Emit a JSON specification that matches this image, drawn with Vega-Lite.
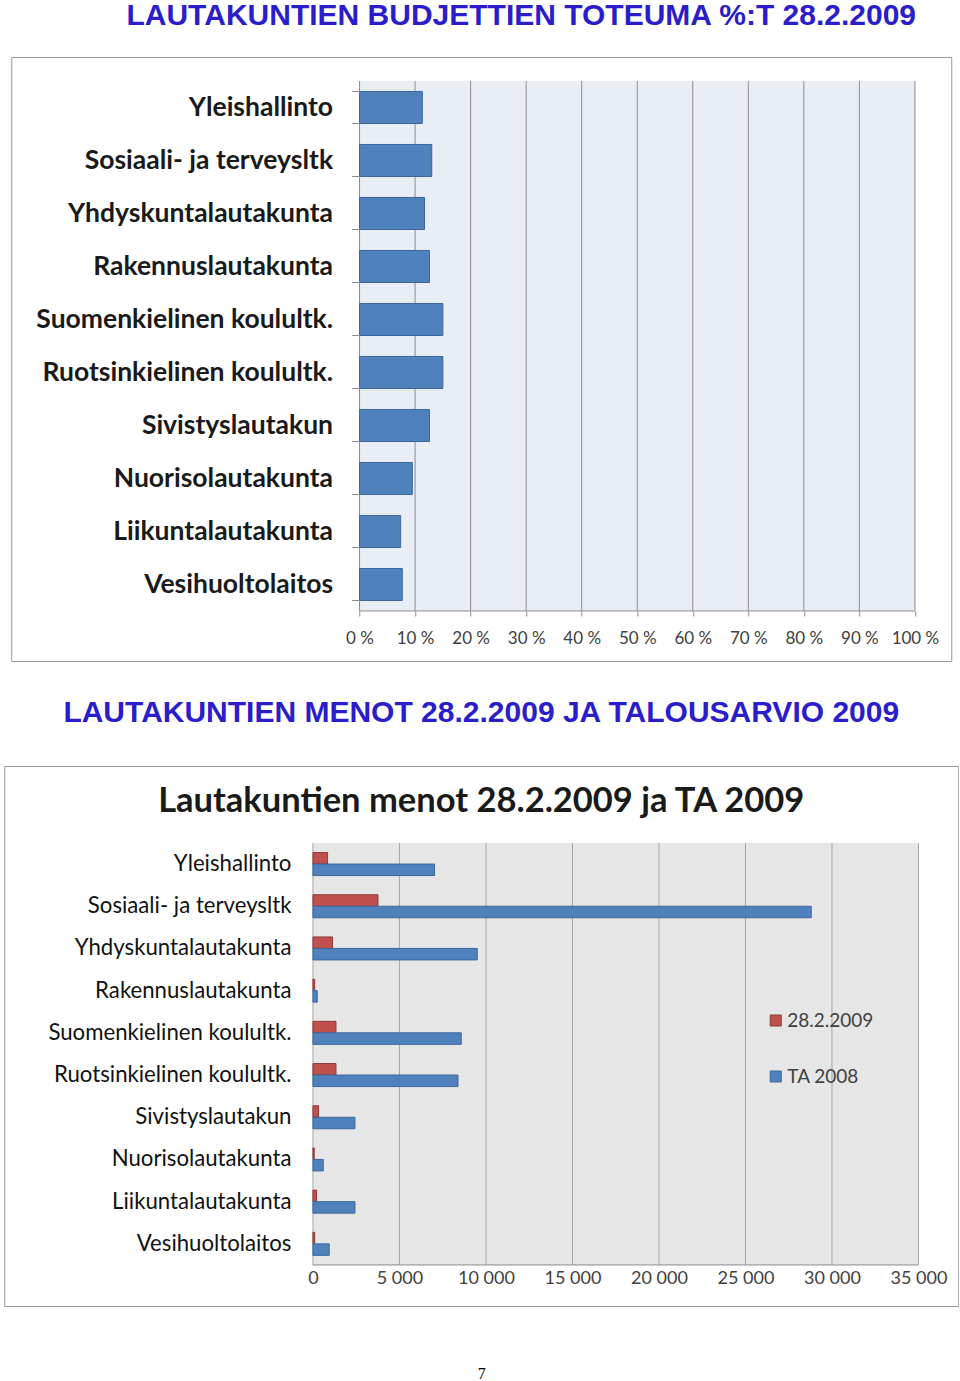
{
  "$schema": "https://vega.github.io/schema/vega-lite/v6.json",
  "padding": {"left": 3, "top": 0, "right": 0, "bottom": 0},
  "background": "white",
  "datasets": {
    "toteuma": [
      {"lautakunta": "Yleishallinto", "toteuma": 11.3},
      {"lautakunta": "Sosiaali- ja terveysltk", "toteuma": 13.0},
      {"lautakunta": "Yhdyskuntalautakunta", "toteuma": 11.7},
      {"lautakunta": "Rakennuslautakunta", "toteuma": 12.6},
      {"lautakunta": "Suomenkielinen koulultk.", "toteuma": 15.0},
      {"lautakunta": "Ruotsinkielinen koulultk.", "toteuma": 15.0},
      {"lautakunta": "Sivistyslautakun", "toteuma": 12.6},
      {"lautakunta": "Nuorisolautakunta", "toteuma": 9.5},
      {"lautakunta": "Liikuntalautakunta", "toteuma": 7.4},
      {"lautakunta": "Vesihuoltolaitos", "toteuma": 7.7}
    ],
    "menot": [
      {"lautakunta": "Yleishallinto", "sarja": "28.2.2009", "menot": 845},
      {"lautakunta": "Yleishallinto", "sarja": "TA 2008", "menot": 7030},
      {"lautakunta": "Sosiaali- ja terveysltk", "sarja": "28.2.2009", "menot": 3757},
      {"lautakunta": "Sosiaali- ja terveysltk", "sarja": "TA 2008", "menot": 28800},
      {"lautakunta": "Yhdyskuntalautakunta", "sarja": "28.2.2009", "menot": 1133},
      {"lautakunta": "Yhdyskuntalautakunta", "sarja": "TA 2008", "menot": 9497},
      {"lautakunta": "Rakennuslautakunta", "sarja": "28.2.2009", "menot": 100},
      {"lautakunta": "Rakennuslautakunta", "sarja": "TA 2008", "menot": 250},
      {"lautakunta": "Suomenkielinen koulultk.", "sarja": "28.2.2009", "menot": 1330},
      {"lautakunta": "Suomenkielinen koulultk.", "sarja": "TA 2008", "menot": 8572},
      {"lautakunta": "Ruotsinkielinen koulultk.", "sarja": "28.2.2009", "menot": 1330},
      {"lautakunta": "Ruotsinkielinen koulultk.", "sarja": "TA 2008", "menot": 8382},
      {"lautakunta": "Sivistyslautakun", "sarja": "28.2.2009", "menot": 324},
      {"lautakunta": "Sivistyslautakun", "sarja": "TA 2008", "menot": 2428},
      {"lautakunta": "Nuorisolautakunta", "sarja": "28.2.2009", "menot": 75},
      {"lautakunta": "Nuorisolautakunta", "sarja": "TA 2008", "menot": 595},
      {"lautakunta": "Liikuntalautakunta", "sarja": "28.2.2009", "menot": 210},
      {"lautakunta": "Liikuntalautakunta", "sarja": "TA 2008", "menot": 2428},
      {"lautakunta": "Vesihuoltolaitos", "sarja": "28.2.2009", "menot": 100},
      {"lautakunta": "Vesihuoltolaitos", "sarja": "TA 2008", "menot": 942}
    ],
    "ticks1": [{"t": 0}, {"t": 10}, {"t": 20}, {"t": 30}, {"t": 40}, {"t": 50}, {"t": 60}, {"t": 70}, {"t": 80}, {"t": 90}, {"t": 100}],
    "ticks2": [{"t": 0}, {"t": 5000}, {"t": 10000}, {"t": 15000}, {"t": 20000}, {"t": 25000}, {"t": 30000}, {"t": 35000}],
    "one": [{"k": 1}]
  },
  "vconcat": [
    {
      "title": {"text": "LAUTAKUNTIEN BUDJETTIEN TOTEUMA %:T 28.2.2009", "font": "Liberation Sans", "fontSize": 30, "fontWeight": "bold", "color": "#2b1dcc", "anchor": "middle", "dx": 40, "offset": 13},
      "width": 940,
      "height": 604,
      "view": {"stroke": "#999999", "strokeWidth": 1, "fill": "white"},
      "layer": [
        {
          "data": {"name": "one"},
          "mark": {"type": "rect", "color": "#e9edf5"},
          "encoding": {
            "x": {"datum": 0, "type": "quantitative", "scale": {"domain": [-62.71, 106.54], "nice": false, "zero": false},
                  "axis": {"offset": -50, "values": [0, 10, 20, 30, 40, 50, 60, 70, 80, 90, 100], "labelExpr": "datum.value + ' %'", "domain": false, "grid": false, "ticks": true, "tickSize": 5, "tickColor": "#8c8c8c", "labelPadding": 14, "labelFont": "Lato", "labelFontSize": 17, "labelColor": "#404040", "title": null, "zindex": 1}},
            "x2": {"datum": 100},
            "y": {"datum": "Yleishallinto", "type": "nominal", "bandPosition": -0.328,
                  "scale": {"domain": ["Yleishallinto", "Sosiaali- ja terveysltk", "Yhdyskuntalautakunta", "Rakennuslautakunta", "Suomenkielinen koulultk.", "Ruotsinkielinen koulultk.", "Sivistyslautakun", "Nuorisolautakunta", "Liikuntalautakunta", "Vesihuoltolaitos"], "paddingInner": 0.396, "paddingOuter": 0.896, "align": 0.363},
                  "axis": {"offset": -348.3, "domain": false, "grid": false, "ticks": true, "tickBand": "extent", "tickSize": 8, "tickColor": "#8c8c8c", "labelPadding": 19, "labelFont": "Lato", "labelFontWeight": "bold", "labelFontSize": 26.5, "labelColor": "#1a1a1a", "labelLimit": 500, "title": null, "zindex": 1}},
            "y2": {"datum": "Vesihuoltolaitos", "bandPosition": 1.328}
          }
        },
        {
          "data": {"name": "ticks1"},
          "mark": {"type": "rule", "color": "#8c8c8c", "strokeWidth": 1},
          "encoding": {
            "x": {"field": "t", "type": "quantitative"},
            "y": {"datum": "Yleishallinto", "type": "nominal", "bandPosition": -0.328},
            "y2": {"datum": "Vesihuoltolaitos", "bandPosition": 1.328}
          }
        },
        {
          "data": {"name": "one"},
          "mark": {"type": "rule", "color": "#8c8c8c", "strokeWidth": 1},
          "encoding": {
            "x": {"datum": 0, "type": "quantitative"},
            "x2": {"datum": 100},
            "y": {"datum": "Vesihuoltolaitos", "type": "nominal", "bandPosition": 1.328}
          }
        },
        {
          "data": {"name": "toteuma"},
          "mark": {"type": "bar", "color": "#4f81bd", "stroke": "#3b679c", "strokeWidth": 1},
          "encoding": {
            "x": {"field": "toteuma", "type": "quantitative"},
            "y": {"field": "lautakunta", "type": "nominal"}
          }
        }
      ]
    },
    {
      "title": {"text": "LAUTAKUNTIEN MENOT 28.2.2009 JA TALOUSARVIO 2009", "font": "Liberation Sans", "fontSize": 30, "fontWeight": "bold", "color": "#2b1dcc", "anchor": "middle", "offset": -52,
                "subtitle": "Lautakuntien menot 28.2.2009 ja TA 2009", "subtitleFont": "Lato", "subtitleFontSize": 34.5, "subtitleFontWeight": "bold", "subtitleColor": "#1a1a1a", "subtitlePadding": 57},
      "width": 954,
      "height": 540,
      "view": {"stroke": "#999999", "strokeWidth": 1, "fill": "white"},
      "layer": [
        {
          "data": {"name": "one"},
          "mark": {"type": "rect", "color": "#e6e6e6"},
          "encoding": {
            "x": {"datum": 0, "type": "quantitative", "scale": {"domain": [-17843, 37299], "nice": false, "zero": false},
                  "axis": {"offset": -41, "values": [0, 5000, 10000, 15000, 20000, 25000, 30000, 35000], "labelExpr": "replace(format(datum.value, ','), ',', ' ')", "domain": false, "grid": false, "ticks": false, "labelPadding": 4, "labelFont": "Lato", "labelFontSize": 18, "labelColor": "#404040",
                           "title": "7", "titleFont": "Liberation Serif", "titleFontSize": 16, "titleFontWeight": "normal", "titleColor": "#000000", "titlePadding": 78, "zindex": 1}},
            "x2": {"datum": 35000},
            "y": {"datum": "Yleishallinto", "type": "nominal", "bandPosition": -0.417,
                  "scale": {"domain": [" ", "Yleishallinto", "Sosiaali- ja terveysltk", "Yhdyskuntalautakunta", "Rakennuslautakunta", "Suomenkielinen koulultk.", "Ruotsinkielinen koulultk.", "Sivistyslautakun", "Nuorisolautakunta", "Liikuntalautakunta", "Vesihuoltolaitos", "  "], "paddingInner": 0.455, "paddingOuter": 0.6255, "align": 0.84},
                  "axis": {"offset": -308.7, "domain": false, "grid": false, "ticks": false, "labelPadding": 22, "labelFont": "Lato", "labelFontSize": 22.2, "labelColor": "#111111", "labelLimit": 500, "title": null, "zindex": 1}},
            "y2": {"datum": "Vesihuoltolaitos", "bandPosition": 1.417}
          }
        },
        {
          "data": {"name": "ticks2"},
          "mark": {"type": "rule", "color": "#a6a6a6", "strokeWidth": 1},
          "encoding": {
            "x": {"field": "t", "type": "quantitative"},
            "y": {"datum": "Yleishallinto", "type": "nominal", "bandPosition": -0.417},
            "y2": {"datum": "Vesihuoltolaitos", "bandPosition": 1.417}
          }
        },
        {
          "data": {"name": "one"},
          "mark": {"type": "rule", "color": "#8c8c8c", "strokeWidth": 1},
          "encoding": {
            "x": {"datum": 0, "type": "quantitative"},
            "x2": {"datum": 35000},
            "y": {"datum": "Vesihuoltolaitos", "type": "nominal", "bandPosition": 1.417}
          }
        },
        {
          "data": {"name": "menot"},
          "mark": {"type": "bar", "strokeWidth": 1},
          "encoding": {
            "x": {"field": "menot", "type": "quantitative"},
            "y": {"field": "lautakunta", "type": "nominal"},
            "yOffset": {"field": "sarja", "type": "nominal", "scale": {"domain": ["28.2.2009", "TA 2008"], "paddingInner": 0, "paddingOuter": 0}},
            "color": {"field": "sarja", "type": "nominal", "scale": {"domain": ["28.2.2009", "TA 2008"], "range": ["#c0504d", "#4f81bd"]},
                      "legend": {"orient": "none", "legendX": 762, "legendY": 245, "title": null, "symbolType": "square", "symbolSize": 121, "symbolStrokeWidth": 1, "labelFont": "Lato", "labelFontSize": 19, "labelColor": "#404040", "rowPadding": 36, "labelOffset": 2}},
            "stroke": {"field": "sarja", "type": "nominal", "scale": {"domain": ["28.2.2009", "TA 2008"], "range": ["#8c3a38", "#3b679c"]}, "legend": null}
          }
        }
      ]
    }
  ],
  "spacing": 35,
  "center": true,
  "resolve": {"scale": {"x": "independent", "y": "independent", "color": "independent", "stroke": "independent", "yOffset": "independent"}, "legend": {"color": "independent"}}
}
